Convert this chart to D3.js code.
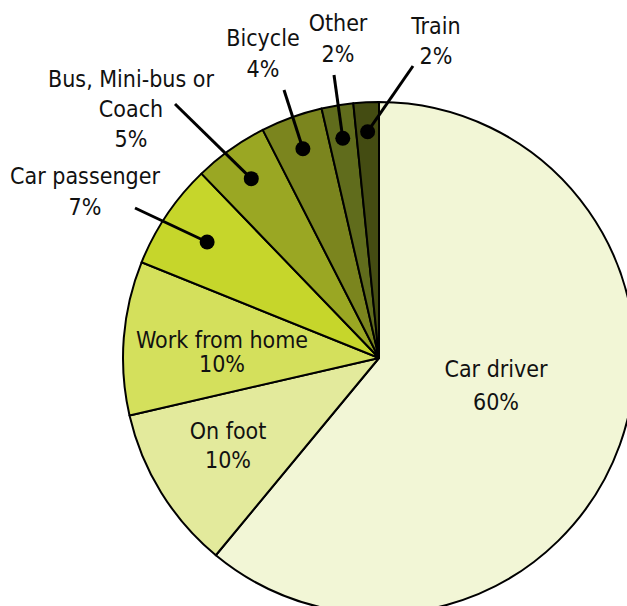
<!DOCTYPE html>
<html>
<head>
<meta charset="utf-8">
<script src="https://cdn.jsdelivr.net/npm/d3@7"></script>
<style>
  html, body { margin: 0; padding: 0; background: #fff; overflow: hidden; }
  svg { display: block; }
  text { font-family: "DejaVu Sans Condensed", "DejaVu Sans", sans-serif; fill: #111; }
</style>
</head>
<body>
<svg id="chart" width="627" height="606"></svg>
<script>
// data - clockwise from 12 o'clock
const categories = ["Car driver", "On foot", "Work from home", "Car passenger",
                    "Bus, Mini-bus or Coach", "Bicycle", "Other", "Train"];
const shares = [61.0, 10.4, 9.7, 6.7, 4.7, 3.9, 2.0, 1.6];
const shareLabels = ["60%", "10%", "10%", "7%", "5%", "4%", "2%", "2%"];
const labelLines = [["Car driver"], ["On foot"], ["Work from home"], ["Car passenger"],
                    ["Bus, Mini-bus or", "Coach"], ["Bicycle"], ["Other"], ["Train"]];

const colors = ["#f2f6d6", "#e3ea9c", "#d4e05c", "#c6d62b",
                "#9aa723", "#7b851e", "#606c1c", "#444c12"];

// label layout, relative to pie centre (x, first baseline, line step)
// callout = leader line end point, dotR = radius of the dot as fraction of r
const labelLayout = [
    {x: 117, y: 19, step: 33},
    {x: -151, y: 81, step: 29},
    {x: -157, y: -10, step: 24},
    {x: -294, y: -174, step: 31, callout: [-244, -150], dotR: 0.81},
    {x: -248, y: -271, step: 30, callout: [-204, -254], dotR: 0.86},
    {x: -116, y: -312, step: 31, callout: [-95, -268], dotR: 0.87},
    {x: -41, y: -327, step: 31, callout: [-45, -283], dotR: 0.87},
    {x: 57, y: -324, step: 30, callout: [34, -292], dotR: 0.885}
];

const width = 627, height = 606;
const cx = 379, cy = 358, radius = 256;

const svg = d3.select("#chart");
const g = svg.append("g").attr("transform", `translate(${cx},${cy})`);

const pie = d3.pie().value(d => d).sort(null);
const arcs = pie(shares);

const arc = d3.arc().innerRadius(0).outerRadius(radius);

g.selectAll("path.slice")
    .data(arcs)
    .enter()
    .append("path")
    .attr("class", "slice")
    .attr("d", arc)
    .attr("fill", (d, i) => colors[i])
    .attr("stroke", "#000")
    .attr("stroke-width", 2)
    .attr("stroke-linejoin", "round");

// callouts for the thin slices
arcs.forEach((d, i) => {
    const lay = labelLayout[i];
    if (!lay.callout) return;
    const rr = radius * lay.dotR;
    const dot = d3.arc().innerRadius(rr).outerRadius(rr).centroid(d);
    g.append("line")
        .attr("x1", dot[0]).attr("y1", dot[1])
        .attr("x2", lay.callout[0]).attr("y2", lay.callout[1])
        .attr("stroke", "#000")
        .attr("stroke-width", 3);
    g.append("circle")
        .attr("cx", dot[0]).attr("cy", dot[1])
        .attr("r", 7.5)
        .attr("fill", "#000");
});

// labels
arcs.forEach((d, i) => {
    const lay = labelLayout[i];
    const lines = labelLines[i].concat([shareLabels[i]]);
    const t = g.append("text")
        .attr("text-anchor", "middle")
        .style("font-size", "23px");
    lines.forEach((s, j) => {
        t.append("tspan")
            .attr("x", lay.x)
            .attr("y", lay.y + j * lay.step)
            .text(s);
    });
});
</script>
</body>
</html>
